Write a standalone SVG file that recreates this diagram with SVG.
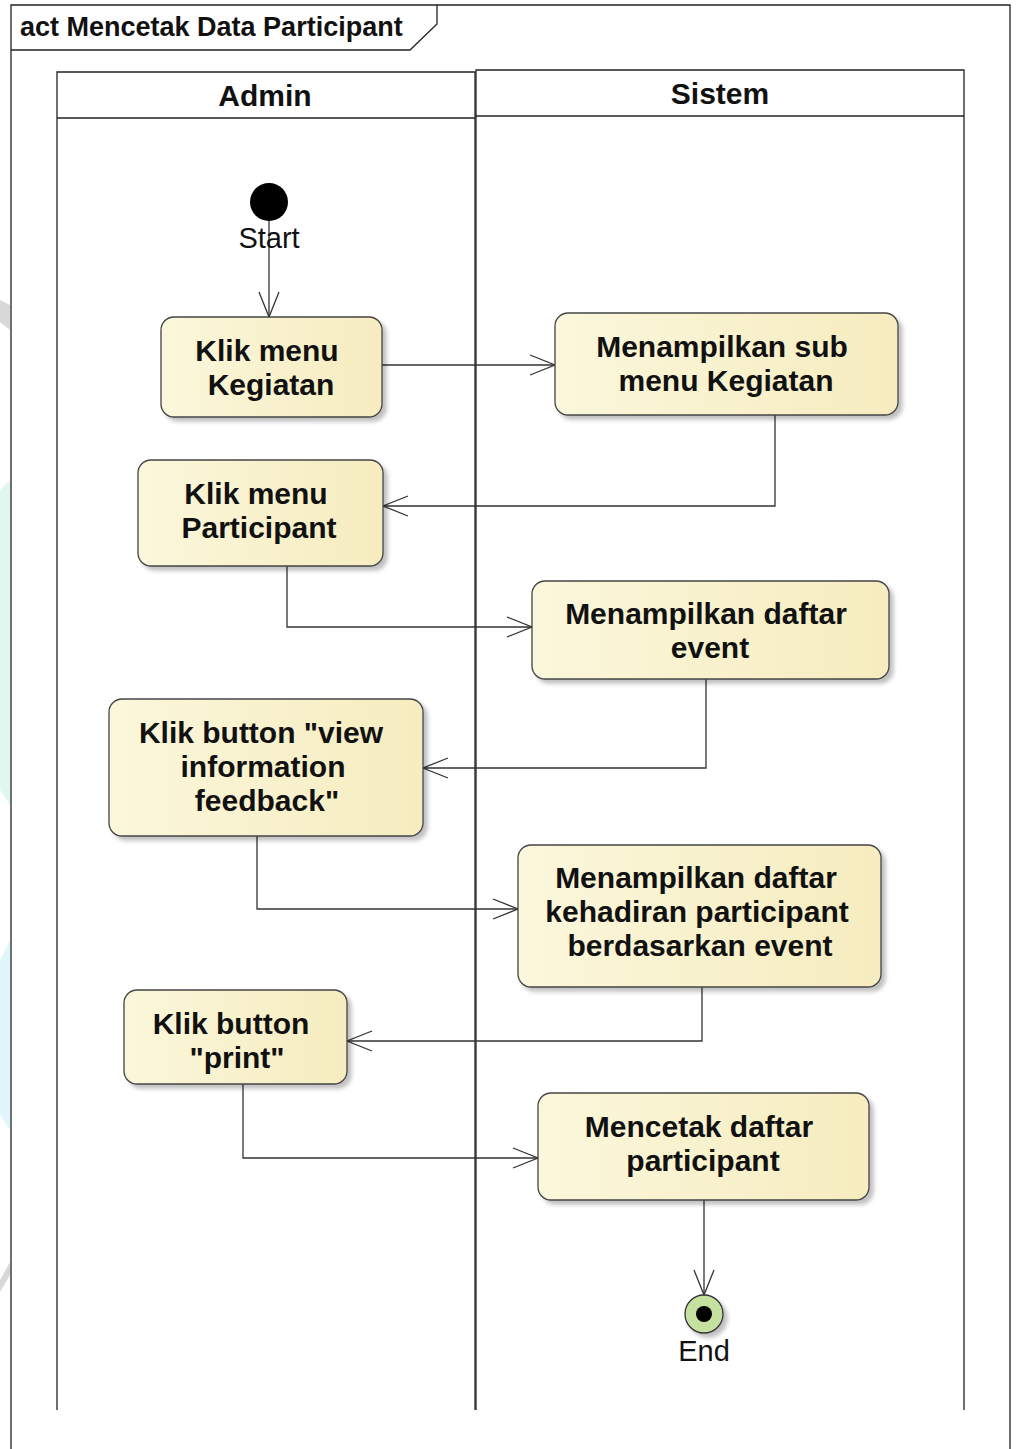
<svg xmlns="http://www.w3.org/2000/svg" width="1019" height="1449" viewBox="0 0 1019 1449">
<defs>
<linearGradient id="g" x1="0" y1="0" x2="1" y2="0">
<stop offset="0" stop-color="#fbf7dc"/>
<stop offset="1" stop-color="#f6ecbf"/>
</linearGradient>
<filter id="sh" x="-10%" y="-10%" width="130%" height="130%">
<feGaussianBlur in="SourceAlpha" stdDeviation="2"/>
<feOffset dx="4" dy="4"/>
<feComponentTransfer><feFuncA type="linear" slope="0.25"/></feComponentTransfer>
<feMerge><feMergeNode/><feMergeNode in="SourceGraphic"/></feMerge>
</filter>
<marker id="ah" markerWidth="30" markerHeight="24" refX="26" refY="12" orient="auto" markerUnits="userSpaceOnUse">
<path d="M1,2 L26,12 L1,22" fill="none" stroke="#333" stroke-width="1.3"/>
</marker>
</defs>
<style>
.frame{fill:none;stroke:#222;stroke-width:1.3}
.lane{fill:none;stroke:#222;stroke-width:1.3}
.act{fill:url(#g);stroke:#444;stroke-width:1.3;filter:url(#sh)}
.t{font-family:"Liberation Sans",Arial,sans-serif;font-weight:bold;font-size:30px;fill:#111;text-anchor:middle}
.lbl{font-family:"Liberation Sans",Arial,sans-serif;font-size:29px;fill:#111;text-anchor:middle}
.c{fill:none;stroke:#333;stroke-width:1.3;marker-end:url(#ah)}
</style>
<rect width="1019" height="1449" fill="#fff"/>
<g id="watermark" opacity="0.7">
<path d="M0,300 L10,305 L10,330 L0,322 Z" fill="#c8c8c8"/>
<path d="M0,490 L10,480 L10,805 L0,790 Z" fill="#d2f5ea"/>
<path d="M0,960 L10,940 L10,1130 L0,1115 Z" fill="#d3f3fb"/>
<path d="M0,1280 L10,1262 L10,1275 L0,1292 Z" fill="#c8c8c8"/>
</g>
<g id="frame">
<path class="frame" d="M11,1449 L11,5 L1010,5 L1010,1449"/>
<path class="frame" d="M11,50 L410,50 L437,24 L437,5"/>
<text x="20" y="36" font-family="Liberation Sans,Arial,sans-serif" font-weight="bold" font-size="27" fill="#111">act Mencetak Data Participant</text>
</g>
<g id="lane-admin">
<path class="lane" d="M57,1410 L57,72 L475,72 L475,1410"/>
<line class="lane" x1="57" y1="118" x2="475" y2="118"/>
<text class="t" x="265" y="106">Admin</text>
</g>
<g id="lane-sistem">
<path class="lane" d="M476,1410 L476,70 L964,70 L964,1410"/>
<line class="lane" x1="476" y1="116" x2="964" y2="116"/>
<text class="t" x="720" y="104">Sistem</text>
</g>
<g id="connectors">
<path class="c" d="M269,221 L269,317"/>
<path class="c" d="M382,365 L555,365"/>
<path class="c" d="M775,415 L775,506 L383,506"/>
<path class="c" d="M287,566 L287,627 L532,627"/>
<path class="c" d="M706,679 L706,768 L423,768"/>
<path class="c" d="M257,836 L257,909 L518,909"/>
<path class="c" d="M702,987 L702,1041 L347,1041"/>
<path class="c" d="M243,1084 L243,1158 L538,1158"/>
<path class="c" d="M704,1200 L704,1295"/>
</g>
<g id="start">
<circle cx="269" cy="202" r="19" fill="#000"/>
<text class="lbl" x="269" y="248">Start</text>
</g>
<g id="n1">
<rect class="act" x="161" y="317" width="221" height="100" rx="13"/>
<text class="t" x="267" y="361">Klik menu</text>
<text class="t" x="271" y="395">Kegiatan</text>
</g>
<g id="n2">
<rect class="act" x="555" y="313" width="343" height="102" rx="13"/>
<text class="t" x="722" y="357">Menampilkan sub</text>
<text class="t" x="726" y="391">menu Kegiatan</text>
</g>
<g id="n3">
<rect class="act" x="138" y="460" width="245" height="106" rx="13"/>
<text class="t" x="256" y="504">Klik menu</text>
<text class="t" x="259" y="538">Participant</text>
</g>
<g id="n4">
<rect class="act" x="532" y="581" width="357" height="98" rx="13"/>
<text class="t" x="706" y="624">Menampilkan daftar</text>
<text class="t" x="710" y="658">event</text>
</g>
<g id="n5">
<rect class="act" x="109" y="699" width="314" height="137" rx="13"/>
<text class="t" x="261" y="743">Klik button "view</text>
<text class="t" x="263" y="777">information</text>
<text class="t" x="267" y="811">feedback"</text>
</g>
<g id="n6">
<rect class="act" x="518" y="845" width="363" height="142" rx="13"/>
<text class="t" x="696" y="888">Menampilkan daftar</text>
<text class="t" x="697" y="922">kehadiran participant</text>
<text class="t" x="700" y="956">berdasarkan event</text>
</g>
<g id="n7">
<rect class="act" x="124" y="990" width="223" height="94" rx="13"/>
<text class="t" x="231" y="1034">Klik button</text>
<text class="t" x="237" y="1068">"print"</text>
</g>
<g id="n8">
<rect class="act" x="538" y="1093" width="331" height="107" rx="13"/>
<text class="t" x="699" y="1137">Mencetak daftar</text>
<text class="t" x="703" y="1171">participant</text>
</g>
<g id="end">
<circle cx="704" cy="1314" r="19" fill="#c6e0a0" stroke="#333" stroke-width="1.3" filter="url(#sh)"/>
<circle cx="704" cy="1314" r="8" fill="#000"/>
<text class="lbl" x="704" y="1361">End</text>
</g>
</svg>
